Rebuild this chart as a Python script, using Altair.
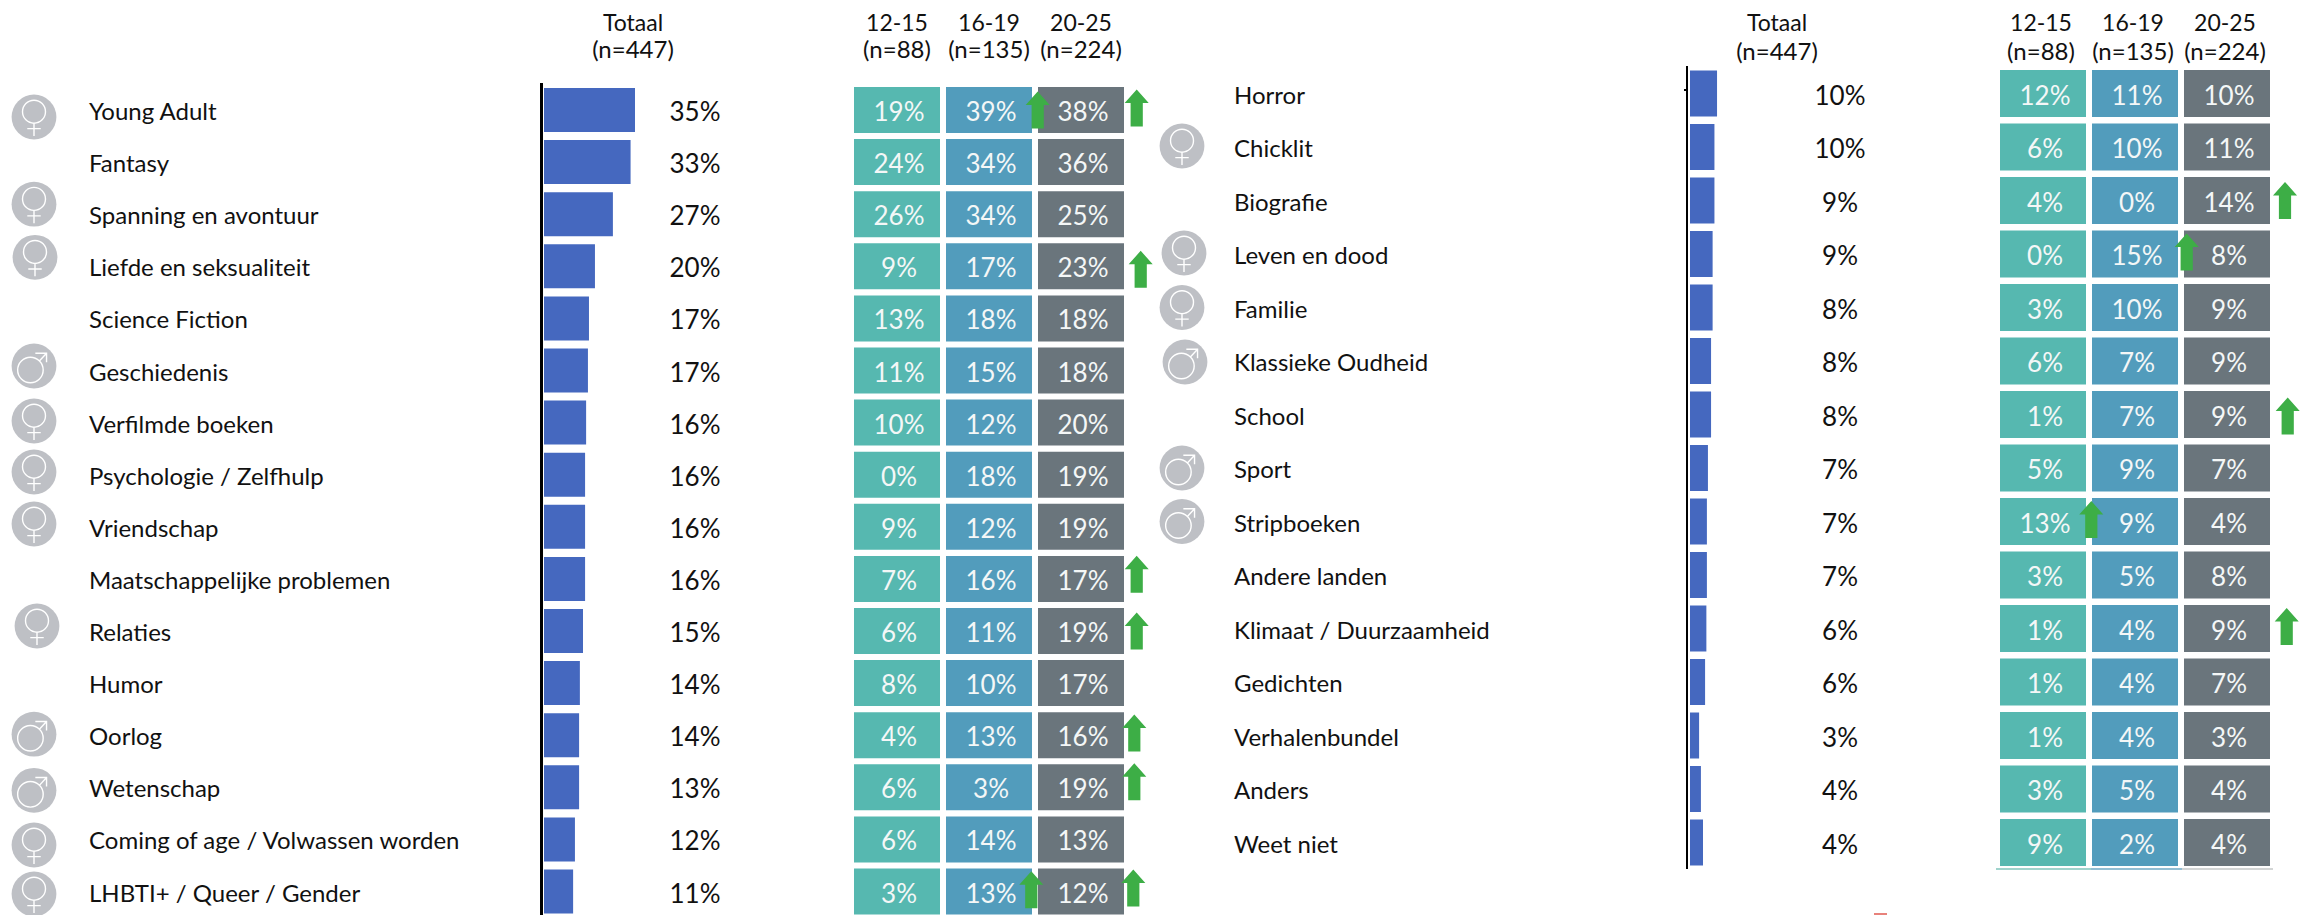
import altair as alt
import pandas as pd

AGES = ["12-15", "16-19", "20-25"]
NS = ["(n=88)", "(n=135)", "(n=224)"]
TEAL, BLUE, GREY = "#56B8B0", "#529CBC", "#6A757C"
BAR = "#4568BF"
FONT = "Lato"

left_rows = ["Young Adult", "Fantasy", "Spanning en avontuur", "Liefde en seksualiteit", "Science Fiction",
             "Geschiedenis", "Verfilmde boeken", "Psychologie / Zelfhulp", "Vriendschap",
             "Maatschappelijke problemen", "Relaties", "Humor", "Oorlog", "Wetenschap",
             "Coming of age / Volwassen worden", "LHBTI+ / Queer / Gender"]
left_total = [35, 33, 27, 20, 17, 17, 16, 16, 16, 16, 15, 14, 14, 13, 12, 11]
left_bar = [35, 33.3, 26.5, 19.6, 17.3, 16.9, 16.2, 15.8, 15.8, 15.8, 15, 13.8, 13.5, 13.5, 11.9, 11.2]
left_a = [19, 24, 26, 9, 13, 11, 10, 0, 9, 7, 6, 8, 4, 6, 6, 3]
left_b = [39, 34, 34, 17, 18, 15, 12, 18, 12, 16, 11, 10, 13, 3, 14, 13]
left_c = [38, 36, 25, 23, 18, 18, 20, 19, 19, 17, 19, 17, 16, 19, 13, 12]

right_rows = ["Horror", "Chicklit", "Biografie", "Leven en dood", "Familie", "Klassieke Oudheid", "School",
              "Sport", "Stripboeken", "Andere landen", "Klimaat / Duurzaamheid", "Gedichten",
              "Verhalenbundel", "Anders", "Weet niet"]
right_total = [10, 10, 9, 9, 8, 8, 8, 7, 7, 7, 6, 6, 3, 4, 4]
right_bar = [10.4, 9.4, 9.4, 8.7, 8.7, 8.1, 8.1, 6.9, 6.5, 6.5, 6.3, 5.8, 3.5, 4.2, 5]
right_a = [12, 6, 4, 0, 3, 6, 1, 5, 13, 3, 1, 1, 1, 3, 9]
right_b = [11, 10, 0, 15, 10, 7, 7, 9, 9, 5, 4, 4, 4, 5, 2]
right_c = [10, 11, 14, 8, 9, 9, 9, 7, 4, 8, 9, 7, 3, 4, 4]

# (row, gender, nudge x, nudge y)
left_icons = [("Young Adult", "f", 0, 7), ("Spanning en avontuur", "f", 0, -10), ("Liefde en seksualiteit", "f", 1, -9),
              ("Geschiedenis", "m", 0, -4.5), ("Verfilmde boeken", "f", 0, -1.6), ("Psychologie / Zelfhulp", "f", 0, -2.7),
              ("Vriendschap", "f", 0, -2.8), ("Relaties", "f", 3, -5), ("Oorlog", "m", 0, -1), ("Wetenschap", "m", 0, 3),
              ("Coming of age / Volwassen worden", "f", 0, 5.6), ("LHBTI+ / Queer / Gender", "f", 0, 2.5)]
right_icons = [("Chicklit", "f", 0, -1), ("Leven en dood", "f", 2, -1), ("Familie", "f", 0, 0),
               ("Klassieke Oudheid", "m", 3, 1), ("Sport", "m", 0, 0), ("Stripboeken", "m", 0, 0)]
# (row, column, nudge x past the cell's right edge, nudge y)
left_arrows = [("Young Adult", "16-19", 5.7, 0), ("Young Adult", "20-25", 12.7, -2), ("Liefde en seksualiteit", "20-25", 16.7, 3),
               ("Maatschappelijke problemen", "20-25", 12.7, -4.6), ("Relaties", "20-25", 12.7, 0), ("Oorlog", "20-25", 10.3, -2.2),
               ("Wetenschap", "20-25", 10.3, -5.6), ("LHBTI+ / Queer / Gender", "16-19", -0.7, -1.8),
               ("LHBTI+ / Queer / Gender", "20-25", 9.3, -3.5)]
right_arrows = [("Biografie", "20-25", 15, 0), ("Leven en dood", "16-19", 8.7, -2), ("School", "20-25", 17.7, 1.5),
                ("Stripboeken", "12-15", 5.3, -2), ("Klimaat / Duurzaamheid", "20-25", 16.7, -2)]

FEMALE = "M-0.513,-0.237A0.513,0.513 0 1 1 0.513,-0.237A0.513,0.513 0 1 1 -0.513,-0.237Z M0,0.29L0,0.85M-0.3,0.52L0.3,0.52"
MALE = "M-0.73,0.18A0.57,0.57 0 1 1 0.41,0.18A0.57,0.57 0 1 1 -0.73,0.18Z M0.24,-0.22L0.56,-0.57M0.06,-0.57L0.56,-0.57L0.56,-0.17"
ARROW = "M0,-1L0.65,-0.27L0.33,-0.27L0.33,1L-0.33,1L-0.33,-0.27L-0.65,-0.27Z"
CELL_W = 86
TEXT_DY = 3


def panel(rows, total, barv, a, b, c, icons, arrows, g):
    n = len(rows)
    ypad = g["step_gap"] / g["step"]
    yscale = alt.Scale(type="band", domain=rows, range=[g["top"], g["top"] + (n - 1) * g["step"] + g["cell"]],
                       paddingInner=ypad, paddingOuter=0)
    xband = alt.Scale(type="band", domain=AGES, range=[g["hx"], g["hx"] + 270], paddingInner=6 / 92, paddingOuter=0)
    Y = alt.Y("row:N", scale=yscale, axis=None)
    X = alt.X("age:N", scale=xband, axis=None)
    base = pd.DataFrame({"row": rows, "total": [f"{t}%" for t in total], "bar": barv})
    heat = pd.DataFrame([{"row": r, "age": ag, "v": f"{vals[i]}%"}
                         for i, r in enumerate(rows) for ag, vals in zip(AGES, (a, b, c))])
    head = pd.DataFrame({"age": AGES, "n": NS})
    ic = pd.DataFrame(icons, columns=["row", "g", "nx", "ny"])
    ic["ny"] = ic["ny"] + g["cell"] / 2
    ar = pd.DataFrame(arrows, columns=["row", "age", "nx", "ny"])
    ar["ny"] = ar["ny"] + g["cell"] / 2
    ar["nx"] = ar["nx"] + CELL_W
    ix = alt.X("nx:Q", axis=None, scale=alt.Scale(domain=[0, 10], range=[g["ix"], g["ix"] + 10], nice=False, zero=False))
    iy = alt.YOffset("ny:Q", scale=None)
    layers = []
    layers.append(alt.Chart(ic).mark_circle(size=2007, color="#BEC0C5", opacity=1).encode(x=ix, y=Y, yOffset=iy))
    layers.append(alt.Chart(ic[ic.g == "f"]).mark_point(shape=FEMALE, size=2007, filled=False, stroke="white", strokeWidth=1.4, opacity=1)
                  .encode(x=ix, y=Y, yOffset=iy))
    layers.append(alt.Chart(ic[ic.g == "m"]).mark_point(shape=MALE, size=2007, filled=False, stroke="white", strokeWidth=1.4, opacity=1)
                  .encode(x=ix, y=Y, yOffset=iy))
    layers.append(alt.Chart(base).mark_text(align="left", baseline="middle", dy=TEXT_DY, font=FONT, fontSize=g["lfs"], color="#111111")
                  .encode(x=alt.value(g["lx"]), y=Y, text="row:N"))
    layers.append(alt.Chart(base).mark_rule(color="black", strokeWidth=2)
                  .encode(x=alt.value(g["ax"]), y=alt.value(g["a0"]), y2=alt.value(g["a1"])))
    layers.append(alt.Chart(base).mark_bar(color=BAR, height=g["barh"])
                  .encode(x=alt.X("bar:Q", axis=None, scale=alt.Scale(domain=[0, 35], range=[g["bx"], g["bx"] + 91], nice=False)), y=Y))
    layers.append(alt.Chart(base).mark_text(align="center", baseline="middle", dy=TEXT_DY, font=FONT, fontSize=g["pfs"], color="#111111")
                  .encode(x=alt.value(g["tx"]), y=Y, text="total:N"))
    layers.append(alt.Chart(heat).mark_rect().encode(
        x=X, y=Y, color=alt.Color("age:N", legend=None, scale=alt.Scale(domain=AGES, range=[TEAL, BLUE, GREY]))))
    layers.append(alt.Chart(heat).mark_text(align="center", baseline="middle", dx=2, dy=TEXT_DY, font=FONT, fontSize=g["pfs"], color="#F4F7F7")
                  .encode(x=X, y=Y, text="v:N"))
    layers.append(alt.Chart(ar).mark_point(shape=ARROW, size=1369, filled=True, color="#3DAE46", opacity=1, strokeWidth=0)
                  .encode(x=X, xOffset=alt.XOffset("nx:Q", scale=None), y=Y, yOffset=iy))
    for yy, fs, field, txt in ((g["h1"], 23, "age", "Totaal"), (g["h2"], 24, "n", "(n=447)")):
        layers.append(alt.Chart(head).mark_text(align="center", baseline="middle", dx=g["hdx"], font=FONT, fontSize=fs, color="#111111")
                      .encode(x=X, y=alt.value(yy), text=f"{field}:N"))
        layers.append(alt.Chart(head.head(1)).mark_text(align="center", baseline="middle", font=FONT, fontSize=fs, color="#111111", text=txt)
                      .encode(x=alt.value(g["hdrx"]), y=alt.value(yy)))
    return layers


gl = dict(top=79, step=52.1, step_gap=6.1, cell=46, hx=846, ix=26, lx=81, ax=533.5, a0=75, a1=907, bx=536, barh=44,
          tx=687, h1=16, h2=43, hdrx=625, lfs=24, pfs=26, hdx=0)
gr = dict(top=62, step=53.5, step_gap=6.5, cell=47, hx=1992, ix=1174, lx=1226, ax=1679, a0=58, a1=861, bx=1682, barh=46,
          tx=1832, h1=16, h2=45, hdrx=1769, lfs=24, pfs=26, hdx=-2)

layers = panel(left_rows, left_total, left_bar, left_a, left_b, left_c, left_icons, left_arrows, gl) + \
         panel(right_rows, right_total, right_bar, right_a, right_b, right_c, right_icons, right_arrows, gr)

# thin rules under the right-hand table, the stray axis tick, and the cropped remnant at the bottom edge
under = pd.DataFrame({"c": ["#7FC4BB", "#6EA9C4", "#C5C7C7"]})
for (x0, x1), col in zip(((1988, 2083), (2083, 2174), (2174, 2265)), under["c"]):
    layers.append(alt.Chart(under.head(1)).mark_rule(color=col, strokeWidth=1.5)
                  .encode(x=alt.value(x0), x2=alt.value(x1), y=alt.value(861)))
layers.append(alt.Chart(under.head(1)).mark_rule(color="#E0584F", strokeWidth=1.5)
              .encode(x=alt.value(1866), x2=alt.value(1879), y=alt.value(906)))
layers.append(alt.Chart(under.head(1)).mark_rule(color="black", strokeWidth=2)
              .encode(x=alt.value(1676), x2=alt.value(1679), y=alt.value(82)))

chart = alt.layer(*layers).resolve_scale(x="independent", y="independent", color="independent", xOffset="independent", yOffset="independent").properties(
    width=2299, height=907, padding=0, autosize=alt.AutoSizeParams(type="none"),
    background="white").configure_view(stroke=None)
chart.save("out.html", embed_options={"renderer": "svg", "actions": False})
